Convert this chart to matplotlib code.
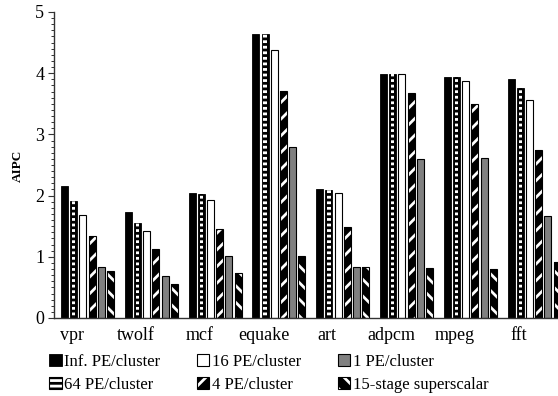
import matplotlib
matplotlib.use('Agg')
import matplotlib.pyplot as plt
from matplotlib.patches import Patch
from matplotlib.ticker import MultipleLocator
import numpy as np

benchmarks = ['vpr', 'twolf', 'mcf', 'equake', 'art', 'adpcm', 'mpeg', 'fft']
series_names = ['Inf. PE/cluster', '64 PE/cluster', '16 PE/cluster',
                '4 PE/cluster', '1 PE/cluster', '15-stage superscalar']
inf_pe = [2.15, 1.73, 2.04, 4.64, 2.11, 3.98, 3.94, 3.91]
pe64 = [1.91, 1.56, 2.03, 4.64, 2.09, 3.98, 3.94, 3.76]
pe16 = [1.68, 1.42, 1.92, 4.38, 2.05, 3.98, 3.87, 3.57]
pe4 = [1.34, 1.13, 1.45, 3.71, 1.49, 3.67, 3.50, 2.74]
pe1 = [0.84, 0.69, 1.02, 2.80, 0.84, 2.59, 2.61, 1.67]
superscalar = [0.76, 0.56, 0.73, 1.01, 0.83, 0.82, 0.80, 0.91]
y_ticks = [0, 1, 2, 3, 4, 5]

plt.rcParams['font.family'] = ['Liberation Serif', 'DejaVu Serif']
plt.rcParams['hatch.linewidth'] = 2.0

fig = plt.figure(figsize=(5.58, 3.96), dpi=100)
ax = fig.add_axes([54/558, 1-318/396, 1-54/558, 306/396])

x = np.arange(len(benchmarks))
pitch = 0.144
w = 0.11
off = [(j - 2.5) * pitch for j in range(6)]

# Inf PE: solid black
ax.bar(x + off[0], inf_pe, w, color='black', edgecolor='black', linewidth=0.6)
# 64 PE: black with white dashes in the centre
ax.bar(x + off[1], pe64, w, color='black', edgecolor='black', linewidth=0.6)
ax.bar(x + off[1], pe64, w*0.5, color='black', edgecolor='white', hatch='---', linewidth=0)
# 16 PE: white
ax.bar(x + off[2], pe16, w, color='white', edgecolor='black', linewidth=0.8)
# 4 PE: black with white / stripes
ax.bar(x + off[3], pe4, w, color='black', edgecolor='white', hatch='//', linewidth=0)
ax.bar(x + off[3], pe4, w, fill=False, edgecolor='black', linewidth=0.8)
# 1 PE: gray
ax.bar(x + off[4], pe1, w, color='#808080', edgecolor='black', linewidth=0.8)
# superscalar: black with white \ stripes
ax.bar(x + off[5], superscalar, w, color='black', edgecolor='white', hatch='\\\\', linewidth=0)
ax.bar(x + off[5], superscalar, w, fill=False, edgecolor='black', linewidth=0.8)

ax.set_xlim(-0.525, 7.375)
ax.set_ylim(0, 5)
ax.set_yticks(y_ticks)
ax.yaxis.set_minor_locator(MultipleLocator(0.1))
ax.tick_params(axis='y', which='major', direction='out', length=4, width=0.8,
               labelsize=13, pad=3, color='#333333')
ax.tick_params(axis='y', which='minor', direction='out', length=2.5, width=0.7,
               color='#333333')
ax.set_xticks(x - 0.24)
ax.set_xticklabels(benchmarks)
ax.tick_params(axis='x', length=0, labelsize=13, pad=6.5)
for s in ['top', 'right']:
    ax.spines[s].set_visible(False)
for s in ['left', 'bottom']:
    ax.spines[s].set_color('#333333')
    ax.spines[s].set_linewidth(1.0)

fig.text(18/558, 1-166/396, 'AIPC', rotation=90, fontweight='bold',
         fontsize=9.5, ha='center', va='center')

handles = [
    (Patch(facecolor='black', edgecolor='black', linewidth=0.6),),
    (Patch(facecolor='black', edgecolor='white', hatch='---', linewidth=0),
     Patch(fill=False, edgecolor='black', linewidth=0.8)),
    (Patch(facecolor='white', edgecolor='black', linewidth=0.8),),
    (Patch(facecolor='black', edgecolor='white', hatch='//', linewidth=0),
     Patch(fill=False, edgecolor='black', linewidth=0.8)),
    (Patch(facecolor='#808080', edgecolor='black', linewidth=0.8),),
    (Patch(facecolor='black', edgecolor='white', hatch='\\\\', linewidth=0),
     Patch(fill=False, edgecolor='black', linewidth=0.8)),
]
fig.legend(handles, series_names, ncol=3, loc='upper left',
           bbox_to_anchor=(49/558, 1-354/396), frameon=False, fontsize=12,
           handlelength=0.75, handleheight=0.7, handletextpad=0.15,
           columnspacing=2.2, labelspacing=0.4, borderpad=0, borderaxespad=0)

fig.savefig('out.png', dpi=100)
